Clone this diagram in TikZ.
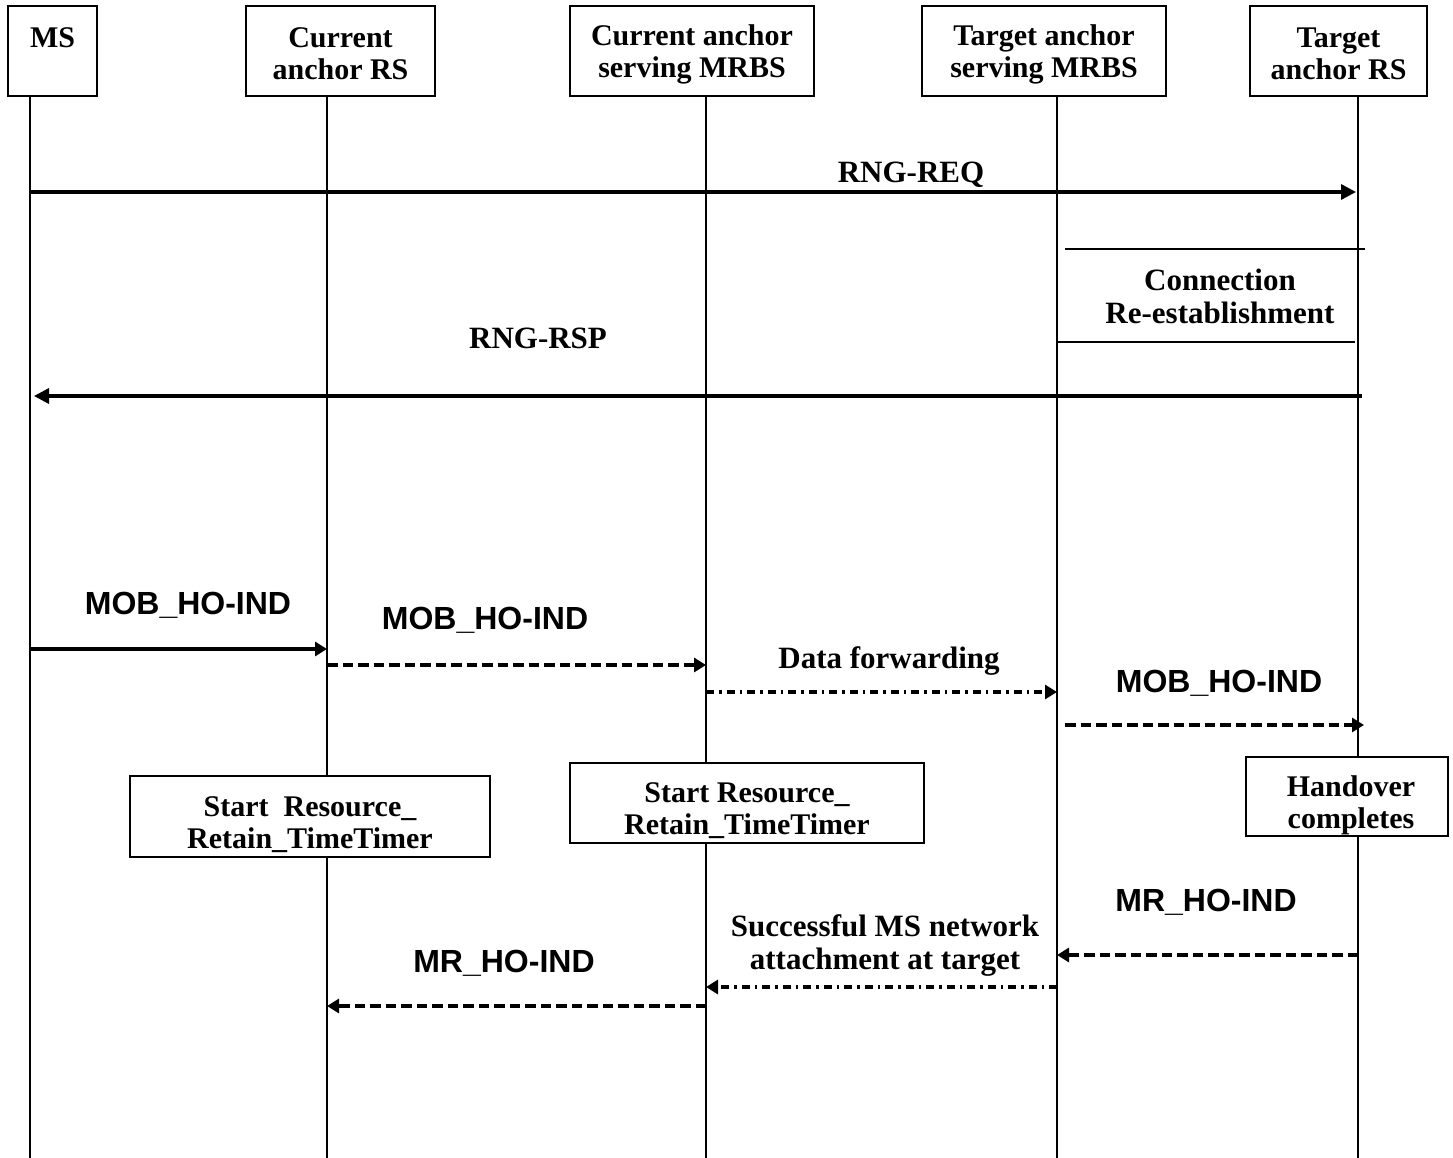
\documentclass[tikz,border=0pt]{standalone}
\usepackage{fontspec}
\setmainfont{Liberation Serif}
\newfontfamily\lblsans{Liberation Sans}
\usetikzlibrary{arrows.meta}
\newcommand\upr[1]{\rule{0pt}{#1pt}}
\begin{document}
\begin{tikzpicture}[x=1pt,y=-1pt,
  actor/.style={draw, line width=2pt, fill=white, inner sep=0pt, align=center,
    font=\bfseries\fontsize{30}{32}\selectfont},
  note/.style={draw, line width=2pt, fill=white, inner sep=0pt, align=center,
    font=\bfseries\fontsize{30}{32}\selectfont},
  life/.style={line width=1.8pt},
  serlbl/.style={inner sep=0pt, align=center, font=\bfseries\fontsize{31}{33}\selectfont},
  sanslbl/.style={inner sep=0pt, font=\lblsans\bfseries\fontsize{32}{34}\selectfont},
  big/.style={line width=3.3pt, -{Triangle[length=15pt,width=15pt]}},
  msg/.style={line width=3.3pt, -{Triangle[length=12pt,width=14pt]}},
  dsh/.style={msg, line width=4pt, dash pattern=on 10.5pt off 5pt},
  dshdot/.style={line width=3.2pt, -{Triangle[length=12pt,width=14pt]}, dash pattern=on 8pt off 5pt on 2.5pt off 5pt},
  thin/.style={line width=1.5pt}
]
\useasboundingbox (0,0) rectangle (1453,1158);
\fill[white] (0,0) rectangle (1453,1158);

% lifeline coordinates
\coordinate (l1) at (30,96);
\coordinate (l2) at (327,96);
\coordinate (l3) at (706,96);
\coordinate (l4) at (1057,96);
\coordinate (l5) at (1358,96);
\coordinate (bot) at (0,1158);

\draw[life] (l1) -- (l1 |- bot);
\draw[life] (l2) -- (l2 |- bot);
\draw[life] (l3) -- (l3 |- bot);
\draw[life] (l4) -- (l4 |- bot);
\draw[life] (l5) -- (l5 |- bot);

% actor boxes
\node[actor, minimum width=89pt, minimum height=90pt] (ms) at (52.5,51) {\upr{25}MS\\\mbox{}};
\node[actor, minimum width=189pt, minimum height=90pt] (cars) at (340.5,51) {\upr{26}Current\\anchor RS};
\node[actor, minimum width=244pt, minimum height=90pt] (cmr) at (692,51) {\upr{28}Current anchor\\serving MRBS};
\node[actor, minimum width=244pt, minimum height=90pt] (tmr) at (1044,51) {\upr{28}Target anchor\\serving MRBS};
\node[actor, minimum width=177pt, minimum height=90pt] (trs) at (1338.5,51) {\upr{26}Target\\anchor RS};

% y levels
\coordinate (y1) at (0,192);
\coordinate (y2) at (0,396);
\coordinate (y3) at (0,649);
\coordinate (y4) at (0,665);
\coordinate (y5) at (0,692);
\coordinate (y6) at (0,725);
\coordinate (y7) at (0,955);
\coordinate (y8) at (0,987);
\coordinate (y9) at (0,1006);

% RNG-REQ
\draw[big, shorten >=2pt] (l1 |- y1) -- (l5 |- y1);
\node[serlbl] (rngreq) at (911,175) {RNG-REQ};

% Connection re-establishment
\draw[thin] (1065,249) -- (1365,249);
\draw[thin] (l4 |- 0,342) -- (1355,342);
\node[serlbl] (conn) at (1220,296) {Connection\\Re-establishment};

% RNG-RSP
\node[serlbl] (rngrsp) at (538,338) {RNG-RSP};
\coordinate (rspstart) at (1362,396);
\draw[big, shorten >=4pt] (rspstart) -- (l1 |- y2);

% MOB_HO-IND 1
\node[sanslbl] (mob1) at (188,605) {MOB\_HO-IND};
\draw[msg] (l1 |- y3) -- (l2 |- y3);

% MOB_HO-IND 2
\node[sanslbl] (mob2) at (485,620) {MOB\_HO-IND};
\draw[dsh] (l2 |- y4) -- (l3 |- y4);

% Data forwarding
\node[serlbl] (df) at (889,661) {Data forwarding};
\draw[dshdot] (l3 |- y5) -- (l4 |- y5);

% MOB_HO-IND 3
\node[sanslbl] (mob3) at (1219,683) {MOB\_HO-IND};
\coordinate (m3s) at (1065,725);
\coordinate (m3e) at (1364,725);
\draw[dsh] (m3s) -- (m3e);

% timer boxes
\node[note, minimum width=360pt, minimum height=81pt] (t1) at (310,816.5) {\upr{36}Start\ \ Resource\_\\Retain\_TimeTimer};
\node[note, minimum width=354pt, minimum height=80pt] (t2) at (747,803) {\upr{36}Start Resource\_\\Retain\_TimeTimer};
\node[note, minimum width=202pt, minimum height=79pt] (hc) at (1347,796.5) {\upr{39}\hspace*{8pt}Handover\\\hspace*{8pt}completes};

% MR_HO-IND 1
\node[sanslbl] (mr1) at (1206,902) {MR\_HO-IND};
\draw[dsh] (l5 |- y7) -- (l4 |- y7);

% Successful
\node[serlbl] (succ) at (885,945) {Successful MS network\\attachment at target};
\draw[dshdot] (l4 |- y8) -- (l3 |- y8);

% MR_HO-IND 2
\node[sanslbl] (mr2) at (504,963) {MR\_HO-IND};
\draw[dsh] (l3 |- y9) -- (l2 |- y9);
\end{tikzpicture}
\end{document}
